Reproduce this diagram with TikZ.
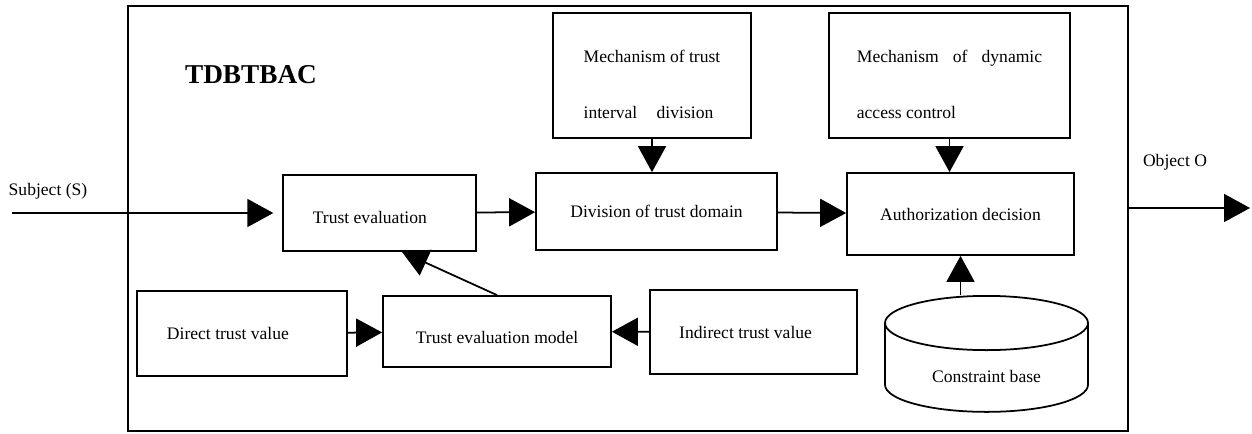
\documentclass[tikz,border=0pt]{standalone}
\usepackage{fontspec}
\setmainfont{Liberation Serif}
\usetikzlibrary{arrows.meta, shapes.geometric}
\tikzset{
    block/.style={draw, rectangle, align=center},
    mech/.style={draw, rectangle, align=left, minimum height=2.5cm},
    base/.style={draw, cylinder, shape border rotate=90, aspect=0.45},
    every edge/.style={
        draw,
        -{Triangle[length=0.52cm,width=0.56cm]},
        line width=1pt
    }
}

\begin{document}
\begin{tikzpicture}[line width=1pt]
	\useasboundingbox (0,0) rectangle (25.04,-8.66);
	\node[draw, minimum width=20cm, minimum height=8.5cm] at (12.56,-4.37) (tdb) {};
	\node at (5.02,-1.5) (title) {\fontsize{15.5}{18}\selectfont\bfseries TDBTBAC};
	\node[block, minimum width=3.86cm, minimum height=1.52cm] at (7.59,-4.26) (te) {\rule{0pt}{12pt}Trust evaluation\hspace{11pt}};
	\node[block, minimum width=4.82cm, minimum height=1.54cm] at (13.13,-4.23) (div) {Division of trust domain};
	\node[block, minimum width=4.54cm, minimum height=1.64cm] at (19.21,-4.28) (auth) {Authorization decision};
	\node[mech, minimum width=3.96cm] at (13.04,-1.51) (mti) {\rule{0pt}{17pt}Mechanism of trust\\[20pt]interval\hspace{11pt}division};
	\node[mech, minimum width=4.82cm] at (18.99,-1.51) (mdac) {\rule{0pt}{17pt}Mechanism\hspace{8pt}of\hspace{8pt}dynamic\\[20pt]access control};
	\node[block, minimum width=4.2cm, minimum height=1.7cm] at (4.84,-6.67) (dtv) {Direct trust value\hspace{16pt}};
	\node[block, minimum width=4.56cm, minimum height=1.42cm] at (9.94,-6.63) (tem) {\rule{0pt}{14pt}Trust evaluation model};
	\node[block, minimum width=4.14cm, minimum height=1.68cm] at (15.07,-6.64) (itv) {Indirect trust value\hspace{9pt}};
	\node[base, minimum width=4.06cm, minimum height=2.32cm, anchor=north] at (19.73,-5.9) (cb) {\rule{0pt}{12pt}Constraint base};
	\node at (0.96,-3.82) (subjtext) {Subject (S)};
	\node at (23.5,-3.24) (objtext) {Object O};
	\coordinate (subj) at (0.24,-4.26);
	\coordinate (obj) at (25,-4.16);
	\draw
	(subj) edge[shorten >=5pt] (te)
	(te) edge (div)
	(div) edge (auth)
	(mti) edge (mti.south |- div.north)
	(mdac) edge (mdac.south |- auth.north)
	(auth.south |- cb.north) edge (auth)
	(tem.north) edge (te.300)
	(dtv) edge (tem)
	(itv) edge (tem)
	(tdb.east |- obj) edge (obj);
\end{tikzpicture}
\end{document}
